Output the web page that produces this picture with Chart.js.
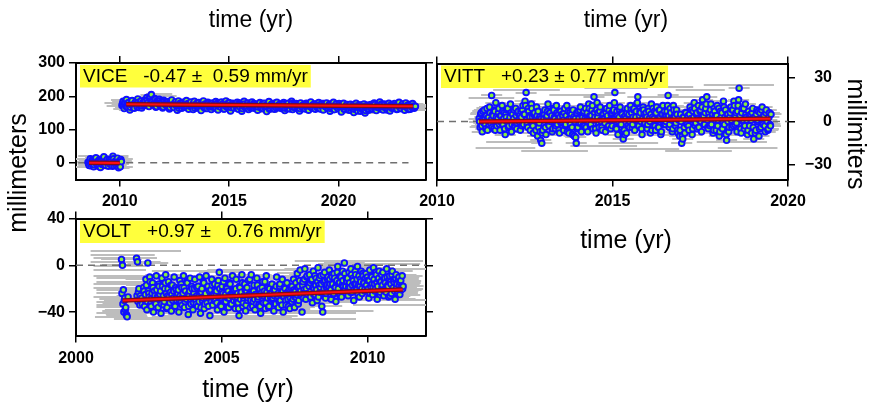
<!DOCTYPE html>
<html>
<head>
<meta charset="utf-8">
<script src="https://cdn.jsdelivr.net/npm/chart.js@4.4.1/dist/chart.umd.min.js"></script>
<style>
  html, body { margin: 0; padding: 0; background: #fff; }
  #wrap { position: relative; width: 871px; height: 405px; overflow: hidden; }
  #wrap canvas { position: absolute; left: 0; top: 0; }
</style>
</head>
<body>
<div id="wrap">
  <canvas id="cVice" width="871" height="405"></canvas>
  <canvas id="cVitt" width="871" height="405"></canvas>
  <canvas id="cVolt" width="871" height="405"></canvas>
</div>
<script>
/* GPS vertical time series for three stations (VICE, VITT, VOLT).
   Epochs are regular; each station has two interleaved epoch sets
   (second set offset by half a step). Values in mm, null = no solution.
   Grey bars are the time windows, red line is the rate in the label. */

// ---------- VICE (two occupations, ~176 mm offset) ----------
const viceStartA = 2008.55, viceStepA = 0.0517;
const viceValuesA = [2, -8, 12, -3, 7, -12, 4, 15, -5, 0, 9, -14, 6, -2, 18, -7, 3, 11, -10, 1,
  8, -4, 20, -9, 5, -1, 14, -15, 3, 10];
const viceValuesA2 = [-3, 5, -9, 8, 1, -6, 11, -2, 4, -11, 7, 0, -5, 13, 2, -8, 6, -1, 9, -4,
  3, -10, 12, 1, -6, 7, -2, 5, -12, 4];
const viceStartB = 2010.1, viceStepB = 0.0517;
const viceValuesB = [
  172, 185, 163, 178, 190, 168, 181, 159, 175, 187, 170, 164, 183, 176, 192, 166, 179, 186, 171, 182,
  188, 174, 196, 180, 169, 199, 205, 184, 177, 193, 167, 186, 179, 191, 172, 183, 165, 188, 176, 181,
  170, 184, 162, 177, 189, 173, 166, 181, 175, 158, 186, 171, 179, 164, 182, 174, 168, 187, 177, 161,
  176, 183, 169, 160, 185, 172, 178, 165, 181, 174, 157, 179, 186, 170, 163, 177, 182, 168, 175, 160,
  180, 171, 166, 184, 175, 159, 178, 169, 183, 173, 162, 177, 186, 167, 174, 180, 156, 172, 179, 165,
  176, 168, 182, 161, 174, 179, 155, 171, 185, 166, 173, 178, 160, 176, 169, 183, 172, 164, 177, 170,
  158, 175, 181, 167, 172, 163, 179, 170, 154, 176, 184, 165, 173, 169, 178, 161, 175, 182, 166, 171,
  177, 163, 170, 181, 157, 174, 168, 179, 164, 172, 185, 160, 175, 169, 178, 166, 173, 156, 180, 170,
  167, 176, 162, 179, 171, 158, 174, 183, 165, 170, 177, 161, 175, 168, 181, 163, 172, 178, 159, 173,
  169, 180, 164, 172, 155, 176, 167, 182, 160, 174, 170, 163, 178, 166, 153, 173, 179, 161, 168, 175,
  170, 158, 176, 165, 172, 151, 168, 179, 160, 166, 174, 155, 171, 163, 177, 150, 167, 173, 158, 169,
  175, 161, 170, 180, 164, 157, 172, 168, 183, 162, 174, 159, 177, 166, 171, 163, 179, 156, 168, 173,
  165, 178, 170, 160, 174, 182, 167, 163, 176, 171, 158, 180, 169, 164, 175, 161, 172, 178, 166, 168];
const viceValuesB2 = [
  178, 171, 183, 169, 176, 180, 173, 167, 185, 174, 170, 179, 176, 168, 182, 172, 177, 165, 180, 174,
  183, 176, 189, 171, 194, 180, 185, 174, 178, 191, 169, 182, 177, 186, 173, 180, 168, 184, 175, 179,
  171, 178, 166, 181, 173, 169, 176, 183, 170, 175, 164, 179, 172, 177, 168, 180, 174, 167, 178, 171,
  176, 168, 174, 180, 165, 172, 178, 170, 167, 175, 181, 171, 166, 177, 173, 163, 179, 170, 175, 168,
  169, 177, 172, 164, 180, 170, 175, 167, 173, 178, 162, 171, 176, 169, 181, 173, 166, 174, 170, 177,
  174, 166, 171, 179, 168, 175, 163, 173, 177, 170, 167, 180, 172, 165, 174, 169, 178, 171, 164, 175,
  168, 175, 170, 163, 178, 172, 166, 174, 169, 176, 161, 171, 177, 167, 173, 179, 165, 170, 174, 168,
  173, 166, 171, 177, 164, 169, 175, 168, 162, 172, 178, 167, 170, 165, 174, 169, 176, 163, 171, 167,
  166, 172, 169, 175, 161, 170, 176, 168, 173, 164, 171, 177, 166, 169, 174, 162, 172, 167, 178, 170,
  172, 165, 170, 176, 163, 168, 174, 160, 171, 177, 166, 169, 173, 164, 170, 175, 161, 168, 172, 167,
  164, 170, 158, 167, 173, 161, 166, 171, 156, 168, 163, 174, 160, 166, 170, 157, 165, 172, 162, 168,
  171, 163, 169, 175, 160, 167, 172, 165, 170, 177, 162, 168, 174, 166, 159, 171, 167, 173, 164, 170,
  166, 172, 169, 161, 175, 168, 163, 171, 177, 165, 170, 167, 173, 160, 169, 174, 166, 171, 164, 170];
const viceRate = '-0.47', viceSigma = '0.59';
const viceTrendA = [2008.6, 2010.0, 0];      // start, end, value at start
const viceTrendB = [2010.3, 2023.4, 176];
const viceZero = [2008.1, 2023.2];
const viceWindow = 0.5;                       // half time window, yr
const viceSpans = [[2009.3, 2011.0, 180], [2009.4, 2011.2, 170], [2009.6, 2011.6, 188],
  [2011.0, 2012.6, 200], [2011.2, 2012.4, 208], [2022.6, 2024.0, 175], [2022.8, 2024.0, 160],
  [2008.0, 2010.6, -12], [2008.0, 2010.6, 12], [2008.1, 2010.4, 20]];

// ---------- VITT ----------
const vittStart = 2011.2, vittStep = 0.02975;
const vittValues = [
  2, -4, 6, -7, 1, 8, -2, 4, -6, 3, 10, -1, 18, 5, -5, 7, 13, -3, 2, 9,
  -6, 4, 11, -2, 6, -9, 3, 8, -4, 1, 12, -7, 5, 2, -3, 9, -5, 6, 0, 4,
  7, -3, 11, 5, 14, 20, -2, 9, 4, -6, 12, 3, -8, 6, 1, 10, -10, -4, 3, -13,
  -15, -6, 2, 8, -9, 4, 12, -3, 6, 1, -7, 9, 3, -5, 11, -2, 5, -8, 7, 0,
  4, -6, 9, -2, 11, 1, -8, 6, 3, -4, 8, -10, 2, -15, -5, 7, -1, 10, -7, 3,
  6, -3, 9, 1, -7, 12, 4, -2, 8, -5, 17, 3, -8, 13, 6, -4, 10, 0, -6, 5,
  2, -7, 9, 4, -3, 11, -5, 6, 1, 8, 20, -4, 7, -9, 3, 10, -2, 5, -12, -6,
  4, -8, 9, 1, -4, 11, 6, -2, 8, -6, 3, 12, 17, -3, 7, 0, -9, 10, 5, -1,
  6, -5, 9, 2, -8, 12, 3, -3, 7, -6, 10, 1, -4, 8, -9, 5, 11, -2, 4, 0,
  7, 18, -4, 9, 2, -7, 11, 4, -3, 8, -6, 1, -10, 5, -15, -12, 3, -8, 6, -2,
  4, -6, 10, 2, -9, 7, 13, -3, 5, -5, 11, 1, 8, -7, 15, 4, -2, 9, 17, -4,
  6, -3, 12, 2, -8, 9, 4, -6, 11, 1, -10, 7, 3, -5, 14, -2, 8, -13, 5, -7,
  3, 10, -4, 8, 14, -2, 6, -7, 11, 23, 4, -8, 9, 1, -5, 12, 3, -9, 7, -3,
  5, -8, 9, -12, 3, -6, 8, 1, -10, 6, -4, 10, -2, 4, -7, 8, 0, -5, 6, -3];
const vittValues2 = [
  0, 5, -3, 7, -1, 3, -5, 9, 2, -2, 6, 1, -4, 4, 8, -6, 3, 0, 6, -2,
  4, -1, 7, 2, -5, 5, 0, 9, -3, 3, 6, -2, 1, 8, -4, 4, -1, 7, 2, -6,
  3, 8, -2, 5, 11, 1, -4, 7, 3, 0, 9, -3, 5, 2, -6, 4, 7, -1, -7, 2,
  -8, 1, 5, -4, 3, 7, -2, 6, 0, 4, -5, 8, 2, -3, 6, 1, -6, 3, -1, 5,
  1, 6, -3, 4, -7, 7, 2, -2, 5, -9, 3, 0, -11, 6, -4, 2, 8, -1, 4, -3,
  7, 2, -4, 6, 0, 9, -3, 4, 11, 1, 6, -5, 8, 3, -2, 7, 1, -4, 5, 2,
  -1, 6, 3, -4, 8, 1, 5, -3, 7, 13, 2, -5, 4, 0, 8, -2, 6, -7, 3, -9,
  2, 6, -3, 5, 0, 8, -4, 3, 9, 1, 7, 13, -2, 4, 6, -5, 2, 8, -1, 4,
  3, -2, 7, 0, 5, -6, 9, 2, -3, 6, 1, -4, 8, 3, -7, 5, 0, 7, -2, 4,
  11, 4, -2, 6, 1, -5, 8, 3, -1, 5, -8, 2, -6, 0, -10, 3, -4, 6, -1, 2,
  -3, 5, 1, 8, -5, 3, 9, -1, 6, 2, -4, 7, 0, 10, 4, -2, 6, 12, 1, -5,
  3, 8, -2, 5, -6, 7, 1, 4, -3, 9, -7, 2, 6, -1, 10, 3, -9, 5, 0, -4,
  6, 1, 8, -3, 11, 4, -1, 7, 15, 2, -5, 6, 0, 9, -3, 5, 1, -6, 4, 2,
  1, 6, -4, 3, -8, 5, 0, 7, -5, 2, 8, -1, 4, -3, 6, 1, -6, 3, -2, 5];
const vittRate = '+0.23', vittSigma = '0.77';
const vittTrend = [2011.2, 2019.5, 0];
const vittZero = [2010.0, 2020.0];
const vittWindow = 0.3;
const vittSpans = [[2011.0, 2012.4, 24], [2011.6, 2013.5, 22], [2012.9, 2014.6, 25], [2014.2, 2016.0, 23],
  [2015.5, 2017.3, 24], [2016.8, 2018.2, 22], [2017.6, 2019.6, 25], [2011.1, 2012.8, -18],
  [2012.4, 2014.3, -20], [2013.8, 2015.7, -17], [2015.2, 2016.9, -19], [2016.5, 2018.4, -20],
  [2018.0, 2019.7, -18], [2010.9, 2012.2, 16], [2013.2, 2015.0, 18], [2016.0, 2017.8, 17],
  [2011.4, 2013.0, -14], [2014.6, 2016.3, -15], [2017.4, 2019.4, -14]];

// ---------- VOLT ----------
const voltStart = 2001.56, voltStep = 0.03224;
const voltValues = [
  5, 0, -21, -30, -38, -42, -44, -27, null, null, null, null, null, null, null, null, 6, 3, -23, -29,
  -26, null, -33, null, -22, -30, -12, -38, 2, -24, -10, -33, -28, -15, -40, -22, -31, -9, -27, -36,
  -18, -25, -41, -11, -29, -34, -20, -8, -37, -26, -14, -31, -23, -39, -17, -28, -10, -35, -21, -30,
  -24, -40, -13, -32, -19, -27, -9, -36, -22, -29, -15, -42, -26, -11, -33, -20, -38, -24, -12, -30,
  -19, -35, -27, -10, -41, -23, -30, -14, -37, -25, -9, -32, -18, -28, -43, -21, -12, -34, -26, -16,
  -30, -22, -38, -13, -6, -27, -35, -18, -24, -40, -11, -31, -20, -28, -36, -15, -25, -33, -9, -29,
  -21, -37, -12, -27, -32, -43, -19, -24, -8, -35, -28, -16, -39, -22, -30, -13, -26, -36, -8, -23,
  -31, -17, -38, -25, -11, -29, -34, -20, -41, -26, -14, -32, -22, -37, -9, -27, -19, -35, -24, -30,
  -16, -28, -39, -21, -33, -10, -26, -36, -18, -30, -24, -12, -40, -27, -20, -34, -15, -29, -23, -37,
  -19, -31, -25, -12, -36, -22, -28, -7, -33, -18, -4, -26, -40, -14, -21, -3, -29, -10, -24, -16,
  -8, -27, -13, -32, -5, -20, -25, -11, -30, -2, -17, -23, -9, -35, -40, -14, -6, -28, -19, -12,
  -22, -4, -16, -29, -10, -25, -7, -19, -31, -13, -1, -24, -15, -9, -27, -5, -18, 2, -21, -11,
  -14, -26, -6, -19, -3, -23, -11, -30, -16, -8, -21, -1, -17, -27, -12, -5, -24, -9, -15, -20,
  -7, -22, -13, -28, -4, -18, -10, -25, -2, -16, -20, -8, -29, -12, -5, -23, -14, -19, -6, -26,
  -11, -21, -3, -17, -27, -9, -14, -24, -5, -19, -12, -29, -8, -16, -22, -10, -25, -13, -18, -20];
const voltValues2 = [
  -24, -33, -40, -28, -36, -43, null, null, null, null, null, null, null, null, null, null, -26, -31, -20, -34,
  null, -28, null, -19, -35, -25, -17, -31, -22, -27, -14, -35, -24, -19, -30, -26, -33, -21, -28, -16,
  -29, -22, -33, -18, -26, -31, -15, -24, -36, -20, -27, -32, -17, -25, -30, -22, -35, -19, -27, -23,
  -21, -30, -26, -16, -34, -24, -19, -31, -28, -14, -25, -35, -22, -29, -18, -26, -32, -20, -27, -33,
  -26, -18, -31, -23, -36, -20, -28, -15, -33, -24, -29, -19, -35, -22, -27, -31, -17, -25, -30, -21,
  -24, -32, -17, -27, -20, -34, -23, -29, -14, -31, -25, -19, -36, -22, -28, -16, -33, -26, -21, -30,
  -27, -20, -31, -24, -37, -18, -29, -23, -15, -32, -26, -21, -34, -19, -28, -25, -12, -30, -23, -35,
  -22, -29, -25, -33, -17, -27, -21, -35, -24, -19, -30, -26, -14, -32, -23, -28, -36, -20, -27, -24,
  -29, -21, -26, -33, -18, -28, -24, -31, -16, -25, -34, -22, -27, -19, -30, -25, -23, -35, -20, -28,
  -24, -18, -29, -21, -27, -15, -25, -19, -30, -13, -22, -26, -17, -28, -12, -23, -20, -9, -25, -18,
  -15, -22, -12, -19, -25, -9, -17, -21, -14, -27, -11, -19, -16, -23, -8, -20, -13, -24, -17, -10,
  -18, -12, -21, -8, -16, -24, -11, -19, -14, -6, -20, -15, -26, -10, -17, -13, -22, -7, -18, -14,
  -11, -19, -15, -23, -8, -17, -13, -21, -5, -16, -12, -25, -9, -18, -14, -20, -7, -15, -22, -11,
  -17, -10, -20, -13, -24, -9, -16, -19, -12, -22, -6, -15, -18, -11, -25, -14, -8, -17, -21, -13,
  -15, -23, -10, -18, -13, -26, -16, -8, -20, -14, -22, -11, -19, -24, -12, -17, -15, -21, -9, -18];
const voltRate = '+0.97', voltSigma = '0.76';
const voltTrend = [2001.6, 2011.2, -30];
const voltZero = [2000.0, 2012.0];
const voltWindow = 0.7;
const voltSpans = [[2000.5, 2003.6, 12], [2000.5, 2002.7, 9], [2000.6, 2002.2, 6], [2000.5, 2002.9, 3],
  [2000.6, 2002.4, -1], [2000.6, 2002.4, -4], [2000.6, 2003.1, -9], [2000.7, 2002.3, -11],
  [2000.7, 2002.6, -14], [2000.6, 2002.5, -16], [2000.6, 2003.3, -19], [2000.7, 2002.4, -21],
  [2000.7, 2002.9, -24], [2000.6, 2002.7, -27], [2000.8, 2002.5, -29], [2000.7, 2002.4, -31],
  [2000.7, 2003.0, -34], [2000.7, 2002.6, -36], [2000.9, 2002.6, -39], [2000.7, 2002.8, -41],
  [2000.65, 2002.1, -44], [2001.3, 2009.6, -46], [2001.4, 2005.0, -45], [2002.6, 2007.4, -44],
  [2003.0, 2007.6, -43], [2005.0, 2009.6, -41], [2007.4, 2010.2, -39], [2002.6, 2005.5, -5],
  [2004.5, 2007.5, -4], [2007.5, 2011.9, 4], [2008.3, 2011.8, 1], [2009.5, 2012.0, -34],
  [2010.2, 2012.0, -30], [2009.8, 2012.0, -3]];

const FONT = '"Liberation Sans", Arial, Helvetica, sans-serif';
const BLUE = '#1010ff', GREEN = '#86f03e', YELLOW = '#ffff3c', GREY = '#bdbdbd';

// both epoch sets of one occupation, merged in time order
function series(start, step, values, values2) {
  const pts = values.map((v, i) => ({x: start + i * step, y: v}));
  values2.forEach((v, i) => pts.push({x: start + (i + 0.5) * step, y: v}));
  return pts.sort((a, b) => a.x - b.x);
}
function trend([t0, t1, y0], rate) {
  const r = parseFloat(rate);
  return [{x: t0, y: y0}, {x: t1, y: y0 + r * (t1 - t0)}];
}

// grey horizontal bars drawn under everything else
function greyBars(spans) {
  return {
    id: 'greyBars',
    beforeDatasetsDraw(chart) {
      const {ctx, chartArea: a, scales: {x, y}} = chart;
      ctx.save();
      ctx.beginPath();
      ctx.rect(a.left, a.top, a.width, a.height);
      ctx.clip();
      ctx.strokeStyle = GREY;
      ctx.lineWidth = 2;
      ctx.beginPath();
      const bar = (t0, t1, v) => {
        const py = Math.round(y.getPixelForValue(v));
        ctx.moveTo(x.getPixelForValue(t0), py);
        ctx.lineTo(x.getPixelForValue(t1), py);
      };
      chart.data.datasets.forEach(ds => {
        if (!ds.timeWindow) return;
        ds.data.forEach(p => { if (p.y != null) bar(p.x - ds.timeWindow, p.x + ds.timeWindow, p.y); });
      });
      spans.forEach(s => bar(s[0], s[1], s[2]));
      ctx.stroke();
      ctx.restore();
    }
  };
}

// station label box plus axis titles
function panelText(label, titles) {
  return {
    id: 'panelText',
    afterDraw(chart) {
      const {ctx, chartArea: a} = chart;
      ctx.save();
      ctx.font = '19px ' + FONT;
      const w = ctx.measureText(label).width;
      ctx.fillStyle = YELLOW;
      ctx.fillRect(a.left + 4, a.top + 2, w + 6, 22.5);
      ctx.fillStyle = '#000';
      ctx.textBaseline = 'alphabetic';
      ctx.textAlign = 'left';
      ctx.fillText(label, a.left + 7, a.top + 18.7);
      titles.forEach(t => {
        ctx.save();
        ctx.translate(t.x, t.y);
        ctx.rotate((t.rot || 0) * Math.PI / 180);
        ctx.font = t.size + 'px ' + FONT;
        ctx.textAlign = 'center';
        ctx.textBaseline = 'middle';
        ctx.fillText(t.text, 0, 0);
        ctx.restore();
      });
      ctx.restore();
    }
  };
}

function edge(position, min, max, step, o) {
  return {
    type: 'linear', position, min, max,
    afterFit: s => { if (s.isHorizontal()) s.height = o.size; else s.width = o.size; },
    ticks: {
      display: !!o.labels, stepSize: step, includeBounds: false, color: '#000',
      font: {family: FONT, size: 16, weight: 'bold'}, padding: o.pad || 4,
      crossAlign: o.cross || 'near', maxRotation: 0, autoSkip: false,
      callback: v => v < 0 ? '\u2212' + Math.abs(v) : String(v)
    },
    grid: {drawOnChartArea: false, drawTicks: o.ticks !== false, tickLength: 7, color: '#000', lineWidth: 1.5},
    border: {display: true, color: '#000', width: 2}
  };
}

function datasets(pointSets, trends, zero, win) {
  const out = [];
  trends.forEach(t => {
    out.push({type: 'line', data: t, borderColor: '#ff1010', borderWidth: 2, pointRadius: 0, order: 0});
    out.push({type: 'line', data: t, borderColor: '#7a0c1c', borderWidth: 4.5, pointRadius: 0, order: 1});
  });
  pointSets.forEach(p => out.push({
    type: 'scatter', data: p, timeWindow: win, pointRadius: 2.8, borderWidth: 1.9,
    backgroundColor: GREEN, borderColor: BLUE, order: 2
  }));
  out.push({type: 'line', data: [{x: zero[0], y: 0}, {x: zero[1], y: 0}], borderColor: '#707070',
    borderWidth: 1.5, borderDash: [7, 5], pointRadius: 0, order: 3});
  return out;
}

function panel(id, area, scales, sets, plugins) {
  new Chart(document.getElementById(id), {
    type: 'scatter',
    data: {datasets: sets},
    options: {
      responsive: false, animation: false, events: [],
      layout: {padding: area},
      scales,
      plugins: {legend: {display: false}, tooltip: {enabled: false}}
    },
    plugins
  });
}

// VICE: chart area 76..426 x 63..179.5
panel('cVice', {left: 36, right: 435, top: 53, bottom: 195.5}, {
  x: edge('bottom', 2008, 2024, 5, {size: 30, labels: true, pad: 5}),
  xTop: edge('top', 2008, 2024, 5, {size: 10}),
  y: edge('left', -50, 300, 100, {size: 40, labels: true}),
  yRight: edge('right', -50, 300, 100, {size: 10})
}, datasets([series(viceStartA, viceStepA, viceValuesA, viceValuesA2),
             series(viceStartB, viceStepB, viceValuesB, viceValuesB2)],
  [trend(viceTrendA, viceRate), trend(viceTrendB, viceRate)], viceZero, viceWindow),
  [greyBars(viceSpans), panelText('VICE   ' + viceRate + ' \u00b1  ' + viceSigma + ' mm/yr', [
    {text: 'time (yr)', x: 251, y: 21, size: 23},
    {text: 'millimeters', x: 19, y: 173, size: 25, rot: -90}
  ])]);

// VITT: chart area 437..788 x 63.5..179.5, labels on the right
panel('cVitt', {left: 433, right: 39, top: 53.5, bottom: 195.5}, {
  x: edge('bottom', 2010, 2020, 5, {size: 30, labels: true, pad: 5}),
  xTop: edge('top', 2010, 2020, 5, {size: 10}),
  yLeft: edge('left', -40, 40, 30, {size: 4, ticks: false}),
  y: edge('right', -40, 40, 30, {size: 44, labels: true, pad: 7, cross: 'far'})
}, datasets([series(vittStart, vittStep, vittValues, vittValues2)], [trend(vittTrend, vittRate)],
  vittZero, vittWindow),
  [greyBars(vittSpans), panelText('VITT   ' + vittRate + ' \u00b1 ' + vittSigma + ' mm/yr', [
    {text: 'time (yr)', x: 626, y: 21, size: 23},
    {text: 'time (yr)', x: 626, y: 241, size: 25},
    {text: 'millimiters', x: 855, y: 134, size: 25, rot: 90}
  ])]);

// VOLT: chart area 76..426 x 218.5..335.5
panel('cVolt', {left: 36, right: 435, top: 208.5, bottom: 39.5}, {
  x: edge('bottom', 2000, 2012, 5, {size: 30, labels: true, pad: 6}),
  xTop: edge('top', 2000, 2012, 5, {size: 10}),
  y: edge('left', -60, 40, 40, {size: 40, labels: true}),
  yRight: edge('right', -60, 40, 40, {size: 10})
}, datasets([series(voltStart, voltStep, voltValues, voltValues2)], [trend(voltTrend, voltRate)],
  voltZero, voltWindow),
  [greyBars(voltSpans), panelText('VOLT   ' + voltRate + ' \u00b1   ' + voltSigma + ' mm/yr', [
    {text: 'time (yr)', x: 248, y: 390, size: 25}
  ])]);
</script>
</body>
</html>
